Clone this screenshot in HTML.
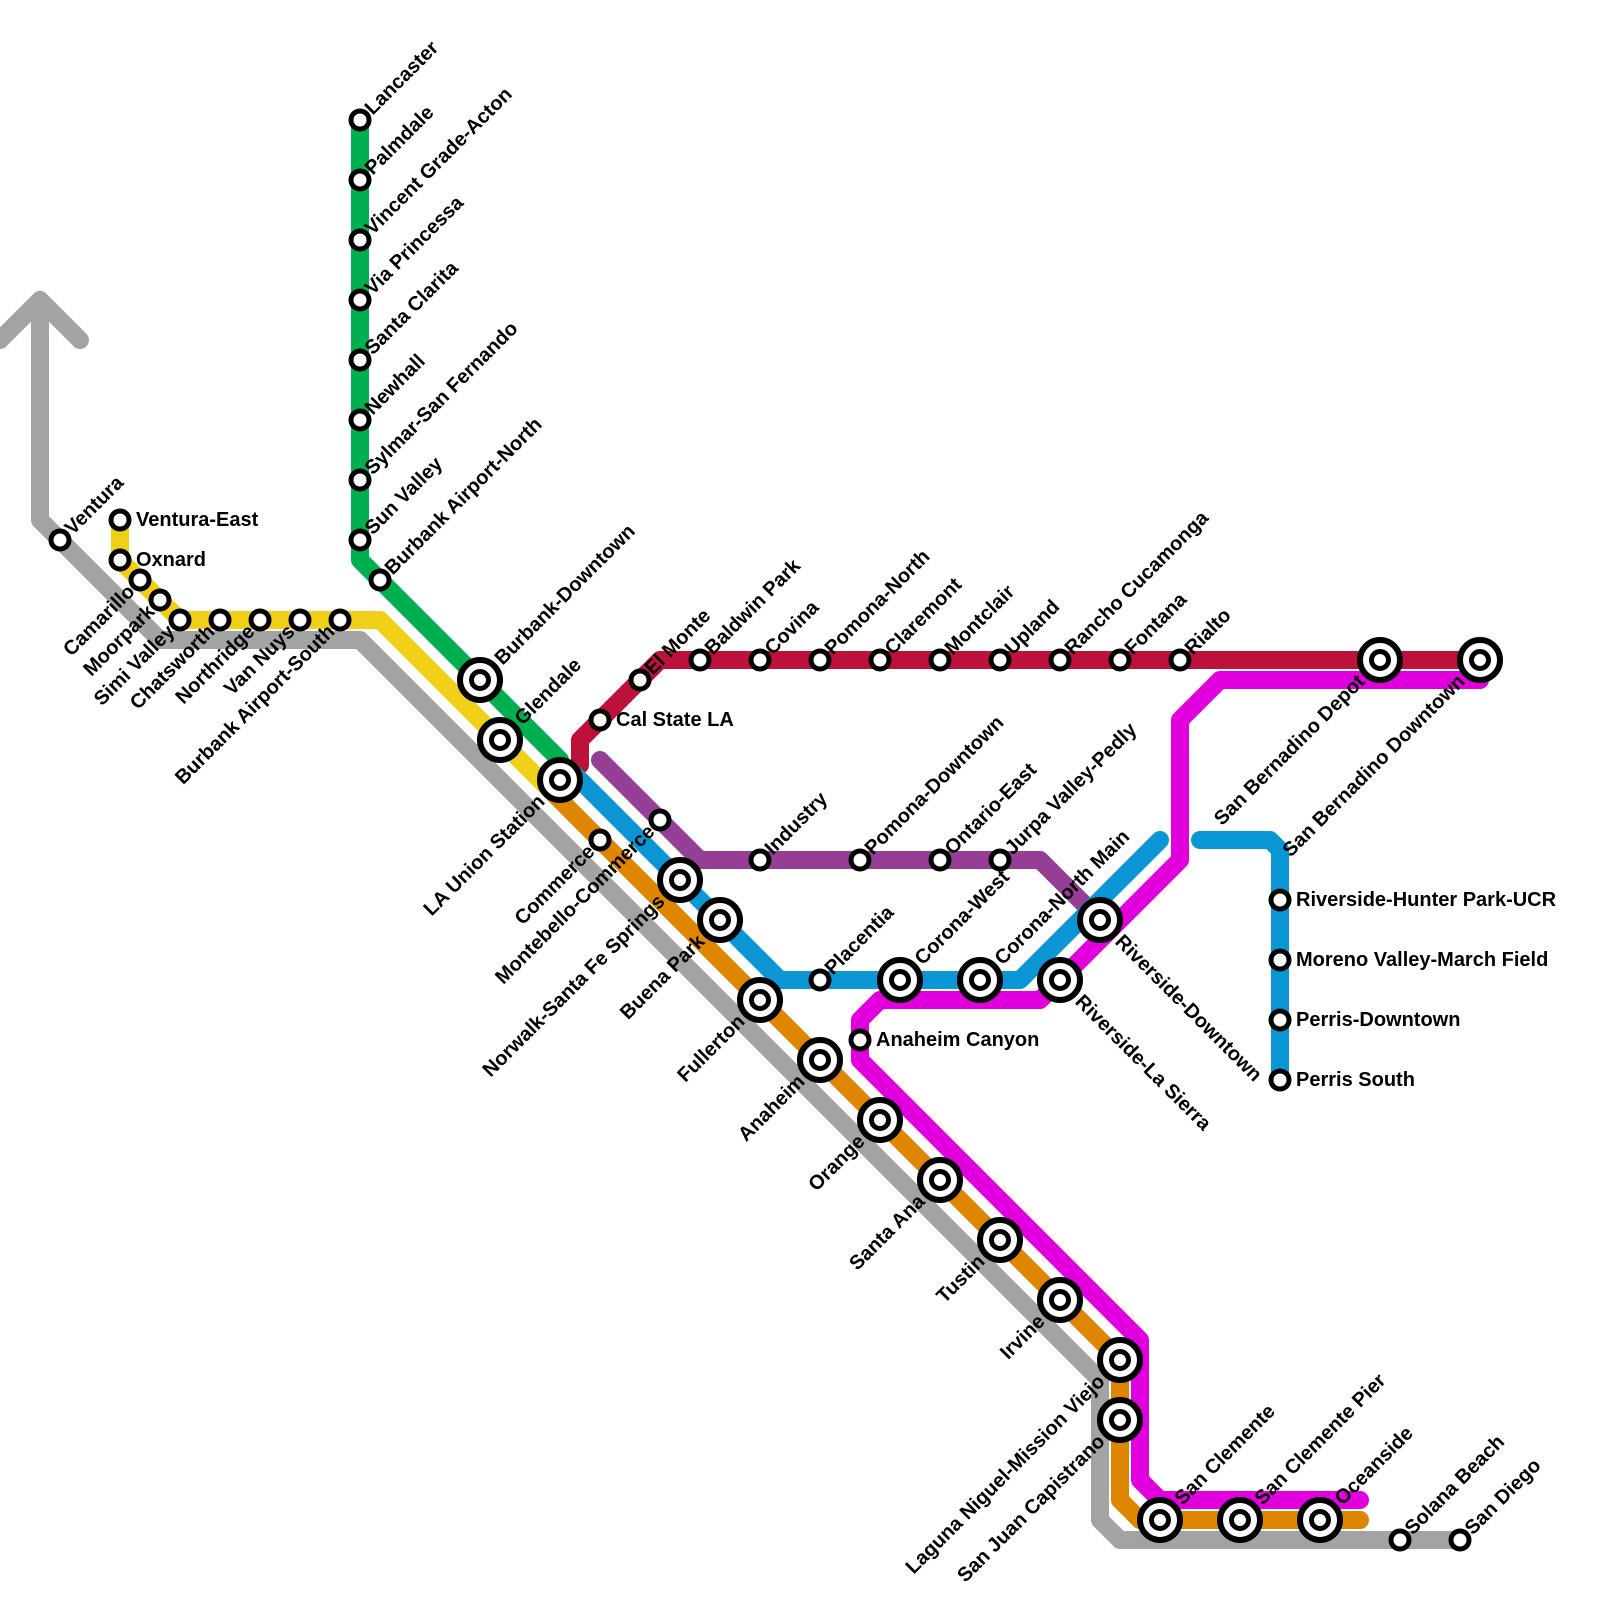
<!DOCTYPE html>
<html><head><meta charset="utf-8"><style>
html,body{margin:0;padding:0;background:#fff;}
svg{display:block;}
text{font-family:"Liberation Sans",Arial,sans-serif;font-weight:bold;font-size:20px;fill:#000;}
.e{text-anchor:end;}
</style></head><body>
<svg width="1600" height="1600" viewBox="0 0 1600 1600" xmlns="http://www.w3.org/2000/svg">
<g fill="none" stroke-width="18" stroke-linecap="round" stroke-linejoin="round">
<path stroke="#a3a3a3" d="M0,340 L40,300 L80,340 M40,300 L40,520 L160,640 L360,640 L1100,1380 L1100,1520 L1120,1540 L1460,1540"/>
<path stroke="#f0cf17" d="M120,520 L120,560 L180,620 L380,620 L552,792"/>
<path stroke="#00b050" d="M360,120 L360,560 L560,760"/>
<path stroke="#bb113a" d="M580,765 L580,740 L660,660 L1480,660"/>
<path stroke="#953e96" d="M600,760 L700,860 L1040,860 L1100,920"/>
<path stroke="#df8600" d="M552,792 L1120,1360 L1120,1500 L1140,1520 L1360,1520"/>
<path stroke="#0b97d6" d="M570,770 L780,980 L1020,980 L1160,840 M1200,840 L1270,840 L1280,850 L1280,1080"/>
<path stroke="#e100dd" d="M1480,680 L1220,680 L1180,720 L1180,860 L1040,1000 L880,1000 L860,1020 L860,1060 L1140,1340 L1140,1480 L1160,1500 L1360,1500"/>
</g>
<g fill="#fff" stroke="#000" stroke-width="5">
<circle cx="60" cy="540" r="9"/><circle cx="1400" cy="1540" r="9"/><circle cx="1460" cy="1540" r="9"/>
<circle cx="120" cy="520" r="9"/><circle cx="120" cy="560" r="9"/><circle cx="140" cy="580" r="9"/><circle cx="160" cy="600" r="9"/><circle cx="180" cy="620" r="9"/><circle cx="220" cy="620" r="9"/><circle cx="260" cy="620" r="9"/><circle cx="300" cy="620" r="9"/><circle cx="340" cy="620" r="9"/>
<circle cx="360" cy="120" r="9"/><circle cx="360" cy="180" r="9"/><circle cx="360" cy="240" r="9"/><circle cx="360" cy="300" r="9"/><circle cx="360" cy="360" r="9"/><circle cx="360" cy="420" r="9"/><circle cx="360" cy="480" r="9"/><circle cx="360" cy="540" r="9"/><circle cx="380" cy="580" r="9"/>
<circle cx="600" cy="720" r="9"/><circle cx="640" cy="680" r="9"/><circle cx="700" cy="660" r="9"/><circle cx="760" cy="660" r="9"/><circle cx="820" cy="660" r="9"/><circle cx="880" cy="660" r="9"/><circle cx="940" cy="660" r="9"/><circle cx="1000" cy="660" r="9"/><circle cx="1060" cy="660" r="9"/><circle cx="1120" cy="660" r="9"/><circle cx="1180" cy="660" r="9"/>
<circle cx="660" cy="820" r="9"/><circle cx="760" cy="860" r="9"/><circle cx="860" cy="860" r="9"/><circle cx="940" cy="860" r="9"/><circle cx="1000" cy="860" r="9"/>
<circle cx="600" cy="840" r="9"/><circle cx="820" cy="980" r="9"/><circle cx="860" cy="1040" r="9"/>
<circle cx="1280" cy="900" r="9"/><circle cx="1280" cy="960" r="9"/><circle cx="1280" cy="1020" r="9"/><circle cx="1280" cy="1080" r="9"/>
</g>
<g fill="#fff" stroke="#000">
<g stroke-width="6">
<circle cx="500" cy="740" r="20"/><circle cx="480" cy="680" r="20"/><circle cx="560" cy="780" r="20"/>
<circle cx="1380" cy="660" r="20"/><circle cx="1480" cy="660" r="20"/><circle cx="1100" cy="920" r="20"/>
<circle cx="760" cy="1000" r="20"/><circle cx="820" cy="1060" r="20"/><circle cx="880" cy="1120" r="20"/><circle cx="940" cy="1180" r="20"/><circle cx="1000" cy="1240" r="20"/><circle cx="1060" cy="1300" r="20"/><circle cx="1120" cy="1360" r="20"/><circle cx="1120" cy="1420" r="20"/>
<circle cx="1160" cy="1520" r="20"/><circle cx="1240" cy="1520" r="20"/><circle cx="1320" cy="1520" r="20"/>
<circle cx="680" cy="880" r="20"/><circle cx="720" cy="920" r="20"/><circle cx="900" cy="980" r="20"/><circle cx="980" cy="980" r="20"/><circle cx="1060" cy="980" r="20"/>
</g>
<g stroke-width="5">
<circle cx="500" cy="740" r="8.5"/><circle cx="480" cy="680" r="8.5"/><circle cx="560" cy="780" r="8.5"/>
<circle cx="1380" cy="660" r="8.5"/><circle cx="1480" cy="660" r="8.5"/><circle cx="1100" cy="920" r="8.5"/>
<circle cx="760" cy="1000" r="8.5"/><circle cx="820" cy="1060" r="8.5"/><circle cx="880" cy="1120" r="8.5"/><circle cx="940" cy="1180" r="8.5"/><circle cx="1000" cy="1240" r="8.5"/><circle cx="1060" cy="1300" r="8.5"/><circle cx="1120" cy="1360" r="8.5"/><circle cx="1120" cy="1420" r="8.5"/>
<circle cx="1160" cy="1520" r="8.5"/><circle cx="1240" cy="1520" r="8.5"/><circle cx="1320" cy="1520" r="8.5"/>
<circle cx="680" cy="880" r="8.5"/><circle cx="720" cy="920" r="8.5"/><circle cx="900" cy="980" r="8.5"/><circle cx="980" cy="980" r="8.5"/><circle cx="1060" cy="980" r="8.5"/>
</g>
</g>
<g>
<text x="136" y="526">Ventura-East</text>
<text x="136" y="566">Oxnard</text>
<text x="616" y="726">Cal State LA</text>
<text x="876" y="1046">Anaheim Canyon</text>
<text x="1296" y="906">Riverside-Hunter Park-UCR</text>
<text x="1296" y="966">Moreno Valley-March Field</text>
<text x="1296" y="1026">Perris-Downtown</text>
<text x="1296" y="1086">Perris South</text>
<text transform="translate(60,540) rotate(-45)" x="12" y="6">Ventura</text>
<text transform="translate(1400,1540) rotate(-45)" x="12" y="6">Solana Beach</text>
<text transform="translate(1460,1540) rotate(-45)" x="12" y="6">San Diego</text>
<text transform="translate(360,120) rotate(-45)" x="12" y="6">Lancaster</text>
<text transform="translate(360,180) rotate(-45)" x="12" y="6">Palmdale</text>
<text transform="translate(360,240) rotate(-45)" x="12" y="6">Vincent Grade-Acton</text>
<text transform="translate(360,300) rotate(-45)" x="12" y="6">Via Princessa</text>
<text transform="translate(360,360) rotate(-45)" x="12" y="6">Santa Clarita</text>
<text transform="translate(360,420) rotate(-45)" x="12" y="6">Newhall</text>
<text transform="translate(360,480) rotate(-45)" x="12" y="6">Sylmar-San Fernando</text>
<text transform="translate(360,540) rotate(-45)" x="12" y="6">Sun Valley</text>
<text transform="translate(380,580) rotate(-45)" x="12" y="6">Burbank Airport-North</text>
<text transform="translate(640,680) rotate(-45)" x="12" y="6">El Monte</text>
<text transform="translate(700,660) rotate(-45)" x="12" y="6">Baldwin Park</text>
<text transform="translate(760,660) rotate(-45)" x="12" y="6">Covina</text>
<text transform="translate(820,660) rotate(-45)" x="12" y="6">Pomona-North</text>
<text transform="translate(880,660) rotate(-45)" x="12" y="6">Claremont</text>
<text transform="translate(940,660) rotate(-45)" x="12" y="6">Montclair</text>
<text transform="translate(1000,660) rotate(-45)" x="12" y="6">Upland</text>
<text transform="translate(1060,660) rotate(-45)" x="12" y="6">Rancho Cucamonga</text>
<text transform="translate(1120,660) rotate(-45)" x="12" y="6">Fontana</text>
<text transform="translate(1180,660) rotate(-45)" x="12" y="6">Rialto</text>
<text transform="translate(760,860) rotate(-45)" x="12" y="6">Industry</text>
<text transform="translate(860,860) rotate(-45)" x="12" y="6">Pomona-Downtown</text>
<text transform="translate(940,860) rotate(-45)" x="12" y="6">Ontario-East</text>
<text transform="translate(1000,860) rotate(-45)" x="12" y="6">Jurpa Valley-Pedly</text>
<text transform="translate(820,980) rotate(-45)" x="12" y="6">Placentia</text>
<text transform="translate(500,740) rotate(-45)" x="26" y="6">Glendale</text>
<text transform="translate(480,680) rotate(-45)" x="26" y="6">Burbank-Downtown</text>
<text transform="translate(900,980) rotate(-45)" x="26" y="6">Corona-West</text>
<text transform="translate(980,980) rotate(-45)" x="26" y="6">Corona-North Main</text>
<text transform="translate(1160,1520) rotate(-45)" x="26" y="6">San Clemente</text>
<text transform="translate(1240,1520) rotate(-45)" x="26" y="6">San Clemente Pier</text>
<text transform="translate(1320,1520) rotate(-45)" x="26" y="6">Oceanside</text>
<text class="e" transform="translate(140,580) rotate(-45)" x="-12" y="6">Camarillo</text>
<text class="e" transform="translate(160,600) rotate(-45)" x="-12" y="6">Moorpark</text>
<text class="e" transform="translate(180,620) rotate(-45)" x="-12" y="6">Simi Valley</text>
<text class="e" transform="translate(220,620) rotate(-45)" x="-12" y="6">Chatsworth</text>
<text class="e" transform="translate(260,620) rotate(-45)" x="-12" y="6">Northridge</text>
<text class="e" transform="translate(300,620) rotate(-45)" x="-12" y="6">Van Nuys</text>
<text class="e" transform="translate(340,620) rotate(-45)" x="-12" y="6">Burbank Airport-South</text>
<text class="e" transform="translate(660,820) rotate(-45)" x="-12" y="6">Montebello-Commerce</text>
<text class="e" transform="translate(600,840) rotate(-45)" x="-12" y="6">Commerce</text>
<text class="e" transform="translate(560,780) rotate(-45)" x="-26" y="6">LA Union Station</text>
<text class="e" transform="translate(680,880) rotate(-45)" x="-26" y="6">Norwalk-Santa Fe Springs</text>
<text class="e" transform="translate(720,920) rotate(-45)" x="-26" y="6">Buena Park</text>
<text class="e" transform="translate(760,1000) rotate(-45)" x="-26" y="6">Fullerton</text>
<text class="e" transform="translate(820,1060) rotate(-45)" x="-26" y="6">Anaheim</text>
<text class="e" transform="translate(880,1120) rotate(-45)" x="-26" y="6">Orange</text>
<text class="e" transform="translate(940,1180) rotate(-45)" x="-26" y="6">Santa Ana</text>
<text class="e" transform="translate(1000,1240) rotate(-45)" x="-26" y="6">Tustin</text>
<text class="e" transform="translate(1060,1300) rotate(-45)" x="-26" y="6">Irvine</text>
<text class="e" transform="translate(1120,1360) rotate(-45)" x="-26" y="6">Laguna Niguel-Mission Viejo</text>
<text class="e" transform="translate(1120,1420) rotate(-45)" x="-26" y="6">San Juan Capistrano</text>
<text class="e" transform="translate(1380,660) rotate(-45)" x="-26" y="6">San Bernadino Depot</text>
<text class="e" transform="translate(1480,660) rotate(-45)" x="-26" y="6">San Bernadino Downtown</text>
<text transform="translate(1100,920) rotate(45)" x="26" y="6">Riverside-Downtown</text>
<text transform="translate(1060,980) rotate(45)" x="26" y="6">Riverside-La Sierra</text>
</g>
</svg>
</body></html>
